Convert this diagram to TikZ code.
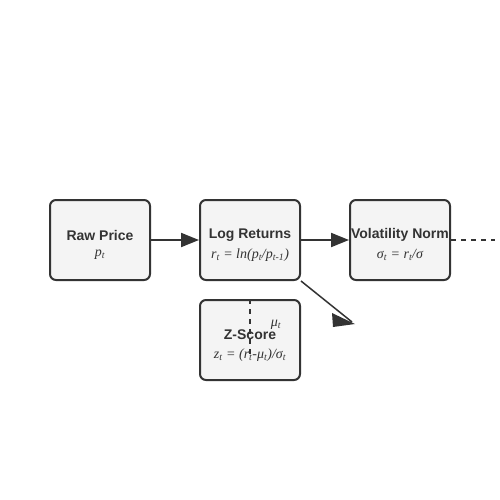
\documentclass[tikz,border=0pt]{standalone}
\usepackage{fontspec}
\setmainfont{Liberation Serif}
\setsansfont{Liberation Sans}
\usetikzlibrary{arrows.meta}
\definecolor{boxfill}{HTML}{F4F4F4}
\definecolor{ink}{HTML}{333333}
\newcommand{\sbt}[1]{\textsubscript{\itshape #1}}
\tikzset{
  stagebox/.style={draw=ink, fill=boxfill, line width=2pt, rounded corners=6pt,
    minimum width=100pt, minimum height=80pt, inner sep=0pt, text=ink},
  flow/.style={draw=ink, line width=2pt, -{Triangle[length=18pt,width=14pt]}},
  dashline/.style={draw=ink, line width=2pt, dash pattern=on 5pt off 5pt},
  ttl/.style={font=\sffamily\bfseries\fontsize{14}{16}\selectfont, text=ink},
  frm/.style={font=\itshape\fontsize{14}{16}\selectfont, text=ink},
}
\begin{document}
\begin{tikzpicture}[x=1pt,y=-1pt]
\useasboundingbox (0,0) rectangle (500,500);
\fill[white] (0,0) rectangle (500,500);
\node[stagebox] (raw) at (100,240) {};
\node[stagebox] (log) at (250,240) {};
\node[stagebox] (vol) at (400,240) {};
\node[stagebox] (z) at (250,340) {};
\node[ttl] (rawt) at (100,235) {Raw Price};
\node[frm] (rawf) at (100,255) {p\sbt{t}};
\node[ttl] (logt) at (250,235) {Log Returns};
\node[frm] (logf) at (250,255) {r\sbt{t} = ln(p\sbt{t}/p\sbt{t-1})};
\node[ttl] (volt) at (400,235) {Volatility Norm};
\node[frm] (volf) at (400,255) {σ\sbt{t} = r\sbt{t}/σ};
\node[ttl] (zt) at (250,335) {Z-Score};
\node[frm] (zf) at (250,355) {z\sbt{t} = (r\sbt{t}-μ\sbt{t})/σ\sbt{t}};
\draw[flow] (raw.east) -- (log.west);
\draw[flow] (log.east) -- (vol.west);
\coordinate (dend) at (495,240);
\draw[dashline] (vol.east) -- (dend);
\coordinate (diagend) at (352,322);
\draw[draw=ink, line width=1.5pt] (log.south east) -- (diagend);
\fill[ink] (332,313) -- (355,324) -- (333,327) -- cycle;
\coordinate (zdash) at (250,356);
\draw[dashline] (z.north) -- (zdash);
\node[frm] (mu) at (276,325) {μ\sbt{t}};
\end{tikzpicture}
\end{document}
